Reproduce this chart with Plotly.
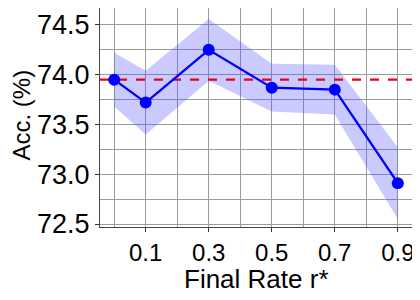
import plotly.graph_objects as go

# final rate r* and accuracy
rates = [0.0, 0.1, 0.3, 0.5, 0.7, 0.9]
acc = [73.95, 73.72, 74.25, 73.87, 73.85, 72.91]
acc_std = [0.27, 0.32, 0.31, 0.24, 0.25, 0.36]
baseline = 73.95

x_ticks = [0.1, 0.3, 0.5, 0.7, 0.9]
x_minor = [0.0, 0.2, 0.4, 0.6, 0.8]
y_ticks = [72.5, 73.0, 73.5, 74.0, 74.5]
y_minor = [72.75, 73.25, 73.75, 74.25]

upper = [a + s for a, s in zip(acc, acc_std)]
lower = [a - s for a, s in zip(acc, acc_std)]

fig = go.Figure()

fig.add_trace(go.Scatter(x=rates, y=upper, mode="lines", line=dict(width=0),
                         showlegend=False, hoverinfo="skip"))
fig.add_trace(go.Scatter(x=rates, y=lower, mode="lines", line=dict(width=0),
                         fill="tonexty", fillcolor="rgba(80,80,255,0.3)",
                         showlegend=False, hoverinfo="skip"))

fig.add_trace(go.Scatter(x=[-0.045, 0.945], y=[baseline, baseline], mode="lines",
                         line=dict(color="#e8001c", width=2.2, dash="dash"),
                         showlegend=False))

fig.add_trace(go.Scatter(x=rates, y=acc, mode="lines+markers",
                         line=dict(color="#0000ff", width=2.3),
                         marker=dict(color="#0000ff", size=12),
                         showlegend=False))

grid = "#9a9a9a"
fig.update_xaxes(range=[-0.045, 0.945], tickvals=x_ticks,
                 ticktext=[str(v) for v in x_ticks],
                 showgrid=True, gridcolor=grid, gridwidth=1,
                 minor=dict(tickvals=x_minor, showgrid=True, gridcolor=grid, gridwidth=1),
                 ticks="outside", ticklen=4, tickcolor="#333",
                 showline=True, linecolor="#444", linewidth=1.2, mirror=True,
                 zeroline=False, automargin=False,
                 tickfont=dict(size=24, color="black"))
fig.update_yaxes(range=[72.47, 74.67], tickvals=y_ticks,
                 ticktext=["%.1f" % v for v in y_ticks],
                 showgrid=True, gridcolor=grid, gridwidth=1,
                 minor=dict(tickvals=y_minor, showgrid=True, gridcolor=grid, gridwidth=1),
                 ticks="outside", ticklen=4, tickcolor="#333",
                 showline=True, linecolor="#444", linewidth=1.2, mirror=True,
                 zeroline=False, automargin=False,
                 tickfont=dict(size=27, color="black"))

fig.add_annotation(text="Final Rate r*", xref="paper", yref="paper", x=0.5, y=0,
                   xanchor="center", yanchor="middle", yshift=-52, showarrow=False,
                   font=dict(size=26, color="black"))
fig.add_annotation(text="Acc. (%)", xref="paper", yref="paper", x=0, y=0.5,
                   xanchor="center", yanchor="middle", xshift=-79, yshift=2,
                   textangle=-90, showarrow=False, font=dict(size=24, color="black"))

# page body has an 8px margin, so the figure is a bit smaller than the window
fig.update_layout(width=410, height=290,
                  margin=dict(l=92, r=6, t=0, b=71),
                  plot_bgcolor="white", paper_bgcolor="white",
                  font=dict(family="Liberation Sans, Arial, sans-serif"))

fig.write_html("out.html")
